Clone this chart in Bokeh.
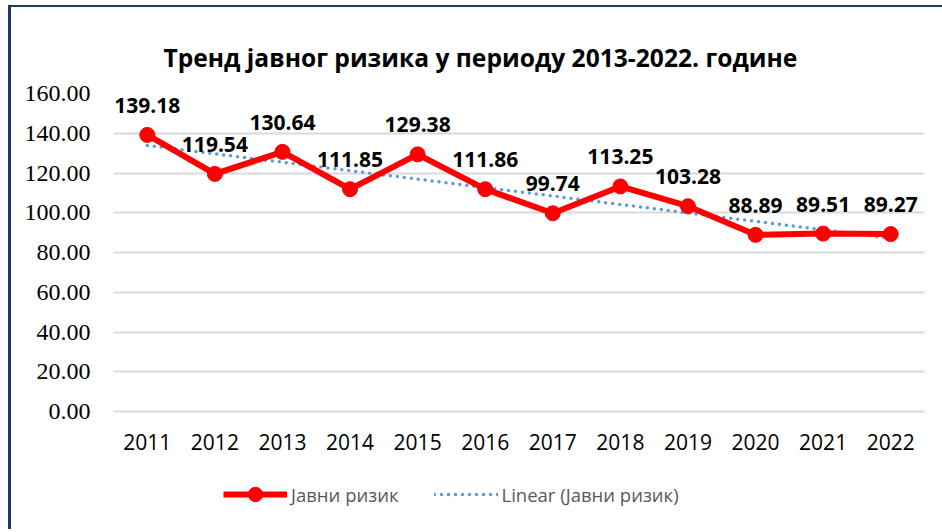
import numpy as np
from bokeh.plotting import figure
from bokeh.models import (ColumnDataSource, FixedTicker, PrintfTickFormatter,
                          Legend, LegendItem, Title)
from bokeh.core.properties import value
from bokeh.embed import file_html
from bokeh.resources import INLINE

years = ["2011", "2012", "2013", "2014", "2015", "2016", "2017", "2018",
         "2019", "2020", "2021", "2022"]
risk = [139.18, 119.54, 130.64, 111.85, 129.38, 111.86, 99.74, 113.25,
        103.28, 88.89, 89.51, 89.27]
y_ticks = [0, 20, 40, 60, 80, 100, 120, 140, 160]

title_text = "Тренд јавног ризика у периоду 2013-2022. године"
series_name = "Јавни ризик"
trend_name = "Linear (Јавни ризик)"

# linear trend (least squares) computed from the series
idx = np.arange(len(risk))
slope, intercept = np.polyfit(idx, risk, 1)
trend = list(slope * idx + intercept)

src = ColumnDataSource(dict(x=years, y=risk, trend=trend,
                            lbl=[f"{v:.2f}" for v in risk]))

# the plotting frame is extended below zero so that the legend fits inside it
grid_px = 318          # pixel height of the 0..160 band
frame_px = 436
y_top = 160
y_bottom = -(frame_px - grid_px) * y_top / grid_px

p = figure(x_range=years, y_range=(y_bottom, y_top),
           frame_width=811, frame_height=frame_px,
           output_backend="svg", toolbar_location=None,
           min_border_left=102, min_border_right=18, min_border_top=86,
           min_border_bottom=0)
p.styles = {"border-left": "3px solid #1F3864", "border-top": "2px solid #1F3864",
            "margin-left": "8px", "margin-top": "5px"}

p.title = Title(text=title_text, align="left",
                text_font="Open Sans", text_font_size="24.6px",
                text_font_style="bold", text_color="#000000",
                offset=50, standoff=40)

p.outline_line_color = None
p.xgrid.grid_line_color = None
p.ygrid.grid_line_color = "#D9D9D9"
p.ygrid.grid_line_width = 2

p.yaxis.ticker = FixedTicker(ticks=y_ticks)
p.yaxis.formatter = PrintfTickFormatter(format="%.2f")
for ax in (p.xaxis[0], p.yaxis[0]):
    ax.axis_line_color = None
    ax.major_tick_line_color = None
    ax.minor_tick_line_color = None
    ax.major_label_text_color = "#000000"
p.yaxis.major_label_text_font = "Liberation Serif"
p.yaxis.major_label_text_font_size = "24px"
p.yaxis.major_label_standoff = 17
p.xaxis.fixed_location = 0
p.xaxis.major_label_text_font = "Open Sans"
p.xaxis.major_label_text_font_size = "21px"
p.xaxis.major_label_standoff = 16

tr = p.line("x", "trend", source=src, line_color="#5B9BD5", line_width=3.5,
            line_dash="0 7", line_cap="round")
ln = p.line("x", "y", source=src, line_color="#FF0000", line_width=6,
            line_join="round")
sc = p.scatter("x", "y", source=src, size=15, fill_color="#FF0000",
               line_color="#FF0000")

p.text("x", "y", text="lbl", source=src, text_align="center",
       text_baseline="bottom", y_offset=-22,
       text_font=value("Open Sans"), text_font_size="21px",
       text_font_style="bold", text_color="#000000")

legend = Legend(items=[LegendItem(label=series_name, renderers=[ln, sc]),
                       LegendItem(label=trend_name, renderers=[tr])],
                orientation="horizontal", location=(110, 17),
                label_text_font="Open Sans", label_text_font_size="18.5px",
                label_text_color="#595959", glyph_width=64, glyph_height=36,
                spacing=35, border_line_color=None, background_fill_alpha=0,
                padding=0, margin=0, label_standoff=4)
p.add_layout(legend, "center")

open("out.html", "w").write(file_html(p, INLINE))
